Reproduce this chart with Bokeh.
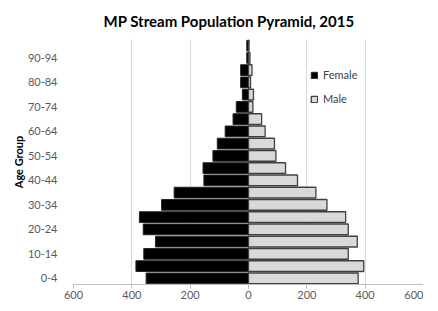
from bokeh.plotting import figure
from bokeh.layouts import row
from bokeh.models import (ColumnDataSource, Range1d, FixedTicker, Span, Legend,
                          LegendItem, Spacer)
from bokeh.embed import file_html
from bokeh.resources import INLINE

age_groups = ["0-4", "5-9", "10-14", "15-19", "20-24", "25-29", "30-34", "35-39",
              "40-44", "45-49", "50-54", "55-59", "60-64", "65-69", "70-74", "75-79",
              "80-84", "85-89", "90-94", "95-99"]
female = [351, 386, 359, 319, 361, 374, 298, 255, 153, 156, 122, 107, 80, 53, 42,
          21, 27, 27, 6, 6]
male = [376, 395, 342, 373, 342, 333, 269, 231, 168, 127, 94, 89, 57, 45, 15,
        17, 7, 12, 5, 2]
x_ticks = [-600, -400, -200, 0, 200, 400, 600]
title_text = "MP Stream Population Pyramid, 2015"

FONT = "Lato"
pos = list(range(len(age_groups)))
src = ColumnDataSource(dict(
    y=pos,
    f_left=[-v for v in female],
    zero=[0] * len(pos),
    m_right=male,
))

p = figure(frame_width=350, frame_height=245, x_range=Range1d(-600, 600),
           y_range=Range1d(-0.5, len(age_groups) - 0.5),
           output_backend="svg", toolbar_location=None,
           min_border_left=0, min_border_right=0, min_border_top=0,
           min_border_bottom=0)
p.outline_line_color = None
p.background_fill_color = "white"
p.border_fill_color = "white"

p.title.text = title_text
p.title.align = "left"
p.title.offset = 30
p.title.text_font = FONT
p.title.text_font_size = "15px"
p.title.text_font_style = "bold"
p.title.text_color = "#000000"
p.title.text_line_height = 1.0
p.title.standoff = 19

zero_line = Span(location=0, dimension="height", line_color="#868686",
                 line_width=1, level="underlay")
p.add_layout(zero_line)

rf = p.hbar(y="y", left="f_left", right="zero", height=0.88, source=src,
            fill_color="#000000", line_color="#262626", line_width=1)
rm = p.hbar(y="y", left="zero", right="m_right", height=0.88, source=src,
            fill_color="#d9d9d9", line_color="#404040", line_width=1.3)

# x axis
xa = p.xaxis[0]
xa.ticker = FixedTicker(ticks=x_ticks)
xa.major_label_overrides = {t: str(abs(t)) for t in x_ticks}
xa.axis_line_color = "#bfbfbf"
xa.major_tick_line_color = "#bfbfbf"
xa.major_tick_out = 4
xa.major_tick_in = 0
xa.minor_tick_line_color = None
xa.major_label_text_font = FONT
xa.major_label_text_font_size = "11px"
xa.major_label_text_color = "#595959"
xa.major_label_standoff = 2

# y axis
ya = p.yaxis[0]
ya.ticker = FixedTicker(ticks=pos[::2])
ya.major_label_overrides = {i: age_groups[i] for i in pos[::2]}
ya.axis_line_color = None
ya.major_tick_line_color = None
ya.minor_tick_line_color = None
ya.major_label_text_font = FONT
ya.major_label_text_font_size = "11px"
ya.major_label_text_color = "#595959"
ya.major_label_standoff = 10
ya.axis_label = "Age Group"
ya.axis_label_text_font = FONT
ya.axis_label_text_font_size = "11px"
ya.axis_label_text_font_style = "bold"
ya.axis_label_text_color = "#000000"
ya.axis_label_standoff = 0

p.xgrid.grid_line_color = "#d9d9d9"
p.ygrid.grid_line_color = None

legend = Legend(items=[LegendItem(label="Female", renderers=[rf]),
                       LegendItem(label="Male", renderers=[rm])],
                location=(237, 179), orientation="vertical",
                background_fill_alpha=0, border_line_color=None,
                padding=0, margin=0, spacing=11,
                glyph_width=8, glyph_height=8, label_standoff=5,
                label_text_font=FONT, label_text_font_size="11px",
                label_text_color="#404040")
p.add_layout(legend)

layout = row(Spacer(width=8, height=290), p)
open("out.html", "w").write(file_html(layout, INLINE))
